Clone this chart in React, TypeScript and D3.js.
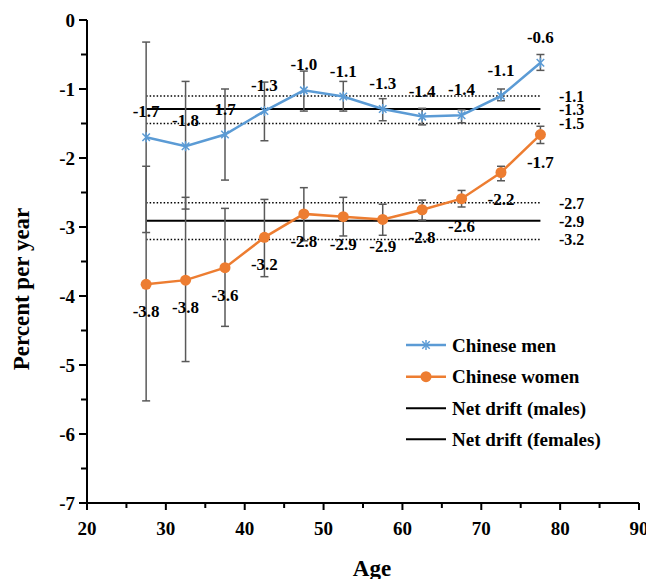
import React from "react";
import * as d3 from "d3";

const ages = [27.5, 32.5, 37.5, 42.5, 47.5, 52.5, 57.5, 62.5, 67.5, 72.5, 77.5];
const menRate = [-1.7, -1.83, -1.66, -1.32, -1.02, -1.11, -1.29, -1.4, -1.38, -1.1, -0.62];
const menLower = [-3.08, -2.74, -2.32, -1.75, -1.32, -1.32, -1.46, -1.52, -1.49, -1.17, -0.73];
const menUpper = [-0.32, -0.89, -1.0, -0.9, -0.74, -0.89, -1.14, -1.28, -1.3, -1.0, -0.5];
const womenRate = [-3.83, -3.77, -3.59, -3.15, -2.81, -2.85, -2.89, -2.75, -2.59, -2.21, -1.66];
const womenUpper = [-2.12, -2.57, -2.73, -2.6, -2.43, -2.57, -2.67, -2.61, -2.47, -2.12, -1.54];
const womenLower = [-5.52, -4.95, -4.44, -3.72, -3.2, -3.13, -3.12, -2.9, -2.71, -2.33, -1.79];
const menLabels = ["-1.7", "-1.8", "1.7", "-1.3", "-1.0", "-1.1", "-1.3", "-1.4", "-1.4", "-1.1", "-0.6"];
const womenLabels = ["-3.8", "-3.8", "-3.6", "-3.2", "-2.8", "-2.9", "-2.9", "-2.8", "-2.6", "-2.2", "-1.7"];

const menDrift = -1.29;
const menDriftCI = [-1.1, -1.5];
const womenDrift = -2.91;
const womenDriftCI = [-2.65, -3.18];
const menDriftLabels = ["-1.1", "-1.3", "-1.5"];
const womenDriftLabels = ["-2.7", "-2.9", "-3.2"];

const xTicks = [20, 30, 40, 50, 60, 70, 80, 90];
const xMinor = [25, 35, 45, 55, 65, 75, 85];
const yTicks = [0, -1, -2, -3, -4, -5, -6, -7];
const yMinor = [-0.5, -1.5, -2.5, -3.5, -4.5, -5.5, -6.5];

const legendItems = ["Chinese men", "Chinese women", "Net drift (males)", "Net drift (females)"];

const BLUE = "#5b9bd5";
const ORANGE = "#ed7d31";
const FONT = '"Liberation Serif", "Times New Roman", "DejaVu Serif", serif';

export default function App() {
  const x = d3.scaleLinear().domain([20, 90]).range([87, 639]);
  const y = d3.scaleLinear().domain([-7, 0]).range([503, 20]);
  const line = d3
    .line<[number, number]>()
    .x((d) => x(d[0]))
    .y((d) => y(d[1]));
  const menPts = ages.map((a, i) => [a, menRate[i]] as [number, number]);
  const womenPts = ages.map((a, i) => [a, womenRate[i]] as [number, number]);
  const x0 = x(ages[0]);
  const x1 = x(ages[ages.length - 1]);
  const tStyle = { fontFamily: FONT, fontWeight: 700 } as React.CSSProperties;

  const star = (cx: number, cy: number, r: number, key: string, color: string) => {
    const d = r * 0.75;
    return (
      <g key={key} stroke={color} strokeWidth={1.5}>
        <line x1={cx} y1={cy - r} x2={cx} y2={cy + r} />
        <line x1={cx - d} y1={cy - d} x2={cx + d} y2={cy + d} />
        <line x1={cx - d} y1={cy + d} x2={cx + d} y2={cy - d} />
      </g>
    );
  };

  const errBar = (a: number, lo: number, hi: number, key: string) => (
    <g key={key} stroke="#595959" strokeWidth={1.5}>
      <line x1={x(a)} x2={x(a)} y1={y(lo)} y2={y(hi)} />
      <line x1={x(a) - 4} x2={x(a) + 4} y1={y(lo)} y2={y(lo)} />
      <line x1={x(a) - 4} x2={x(a) + 4} y1={y(hi)} y2={y(hi)} />
    </g>
  );

  const driftLines = (v: number, ci: number[], labels: string[], key: string) => {
    const vals = [ci[0], v, ci[1]];
    return (
      <g key={key}>
        <line x1={x0} x2={x1} y1={y(v)} y2={y(v)} stroke="#000" strokeWidth={2} />
        {ci.map((c, i) => (
          <line
            key={i}
            x1={x0}
            x2={x1}
            y1={y(c)}
            y2={y(c)}
            stroke="#000"
            strokeWidth={1.5}
            strokeDasharray="1.5,2"
          />
        ))}
        {vals.map((c, i) => (
          <text key={"t" + i} x={559} y={y(c)} dy="0.36em" fontSize={16} style={tStyle}>
            {labels[i]}
          </text>
        ))}
      </g>
    );
  };

  const legendY = [345, 376.7, 408.3, 439.3];

  return (
    <svg
      width={646}
      height={579}
      style={{ position: "absolute", left: 0, top: 0, background: "#fff", fontFamily: FONT }}
    >
      <rect width={646} height={579} fill="#fff" />
      {driftLines(menDrift, menDriftCI, menDriftLabels, "md")}
      {driftLines(womenDrift, womenDriftCI, womenDriftLabels, "wd")}

      {ages.map((a, i) => errBar(a, menLower[i], menUpper[i], "me" + i))}
      {ages.map((a, i) => errBar(a, womenLower[i], womenUpper[i], "we" + i))}

      <path d={line(menPts) || ""} fill="none" stroke={BLUE} strokeWidth={2.5} />
      <path d={line(womenPts) || ""} fill="none" stroke={ORANGE} strokeWidth={2.5} />
      {menPts.map((p, i) => star(x(p[0]), y(p[1]), 5, "ms" + i, BLUE))}
      {womenPts.map((p, i) => (
        <circle key={"wc" + i} cx={x(p[0])} cy={y(p[1])} r={5.5} fill={ORANGE} />
      ))}

      {menPts.map((p, i) => (
        <text key={"ml" + i} x={x(p[0])} y={y(p[1]) - 20} textAnchor="middle" fontSize={17} style={tStyle}>
          {menLabels[i]}
        </text>
      ))}
      {womenPts.map((p, i) => (
        <text key={"wl" + i} x={x(p[0])} y={y(p[1]) + 33} textAnchor="middle" fontSize={17} style={tStyle}>
          {womenLabels[i]}
        </text>
      ))}

      {/* axes */}
      <line x1={87} x2={87} y1={y(0)} y2={y(-7) + 1} stroke="#000" strokeWidth={2} />
      <line x1={86} x2={639} y1={y(-7)} y2={y(-7)} stroke="#000" strokeWidth={2} />
      {yTicks.map((t) => (
        <g key={"yt" + t}>
          <line x1={79} x2={87} y1={y(t)} y2={y(t)} stroke="#000" strokeWidth={2} />
          <text x={75} y={y(t)} dy="0.35em" textAnchor="end" fontSize={19} style={tStyle}>
            {t}
          </text>
        </g>
      ))}
      {yMinor.map((t) => (
        <line key={"ym" + t} x1={81} x2={87} y1={y(t)} y2={y(t)} stroke="#000" strokeWidth={2} />
      ))}
      {xTicks.map((t) => (
        <g key={"xt" + t}>
          <line x1={x(t)} x2={x(t)} y1={y(-7)} y2={y(-7) + 7} stroke="#000" strokeWidth={2} />
          <text x={x(t)} y={535} textAnchor="middle" fontSize={19} style={tStyle}>
            {t}
          </text>
        </g>
      ))}
      {xMinor.map((t) => (
        <line key={"xm" + t} x1={x(t)} x2={x(t)} y1={y(-7)} y2={y(-7) + 5} stroke="#000" strokeWidth={2} />
      ))}

      <text transform={`translate(29, 289) rotate(-90)`} textAnchor="middle" fontSize={23} style={tStyle}>
        Percent per year
      </text>
      <text x={372} y={576} textAnchor="middle" fontSize={23} style={tStyle}>
        Age
      </text>

      {/* legend */}
      {legendItems.map((item, i) => {
        const ly = legendY[i];
        const color = i === 0 ? BLUE : i === 1 ? ORANGE : "#000";
        return (
          <g key={"lg" + i}>
            <line x1={406} x2={446} y1={ly} y2={ly} stroke={color} strokeWidth={i < 2 ? 2.5 : 2} />
            {i === 0 && star(426, ly, 5, "lgs", BLUE)}
            {i === 1 && <circle cx={426} cy={ly} r={5.5} fill={ORANGE} />}
            <text x={452} y={ly} dy="0.35em" fontSize={19} style={tStyle}>
              {item}
            </text>
          </g>
        );
      })}
    </svg>
  );
}
